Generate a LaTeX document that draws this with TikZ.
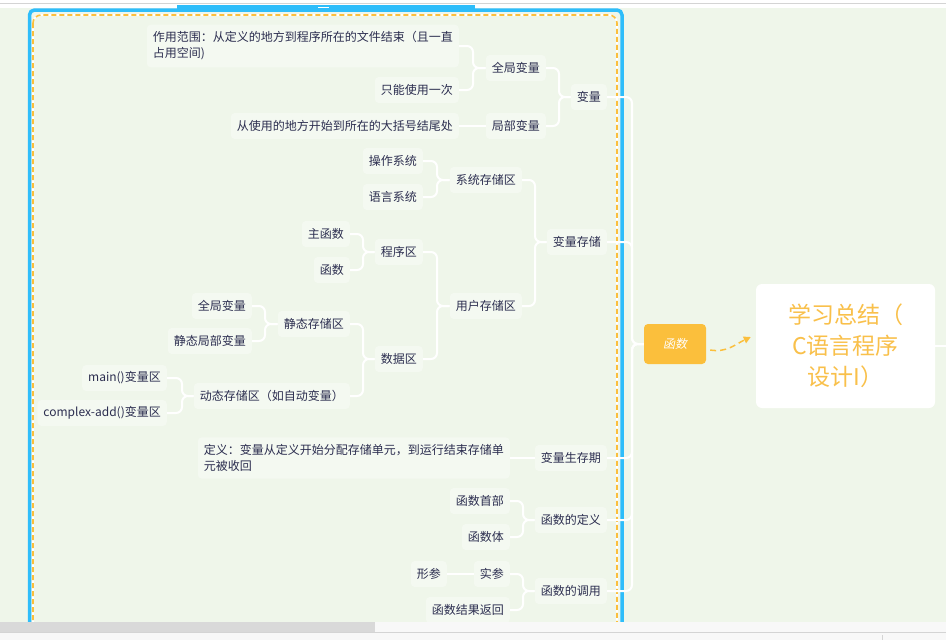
\documentclass[tikz,border=0pt]{standalone}
\usepackage{fontspec}
\setmainfont{Noto Sans CJK SC}
\newfontfamily\cjkslant{Noto Sans CJK SC}[FakeSlant=0.2]
\usetikzlibrary{arrows.meta}

\definecolor{canvas}{HTML}{EFF6EA}
\definecolor{topicfill}{HTML}{F4F9F1}
\definecolor{ink}{HTML}{2B2D4F}
\definecolor{frameblue}{HTML}{2EBDFA}
\definecolor{amber}{HTML}{FBBF3C}
\definecolor{titleamber}{HTML}{F9C04A}
\definecolor{stripgray}{HTML}{F8F8F8}
\definecolor{thumbgray}{HTML}{D9D9D9}
\definecolor{rulegray}{HTML}{D4D4D4}

\tikzset{
  topic/.style={anchor=east, fill=topicfill, rounded corners=4pt, text=ink,
    inner xsep=6pt, inner ysep=0pt, minimum height=26pt,
    font=\fontsize{12}{16}\selectfont},
  note/.style={topic, align=left, inner ysep=7pt},
  link/.style={draw=white, line width=2pt, rounded corners=6pt},
}

\begin{document}
\begin{tikzpicture}[x=1pt, y=-1pt]
  \useasboundingbox (0,0) rectangle (946,640);
  \fill[canvas] (0,0) rectangle (946,640);

  % top bar and frame
  \fill[white] (0,0) rectangle (946,8);
  \draw[rulegray, line width=0.8pt] (0,3.5) -- (946,3.5);
  \fill[frameblue] (177,5) rectangle (475,10);
  \draw[white, line width=1pt] (318,7) -- (329,7);
  \draw[frameblue, line width=3.5pt, rounded corners=5pt] (29.5,10) rectangle (622,700);
  \draw[white, line width=1.6pt, rounded corners=8pt] (33,15) rectangle (617,700);
  \draw[amber, line width=1.6pt, dash pattern=on 5pt off 3pt, rounded corners=8pt] (33,15) rectangle (617,700);

  % centre
  \node[fill=amber, rounded corners=4pt, minimum width=62pt, minimum height=40pt,
    text=white, font=\cjkslant\fontsize{12}{14}\selectfont] (F) at (675,344) {函数};
  \node[fill=white, rounded corners=6pt, minimum width=179pt, minimum height=124pt,
    text=titleamber, align=center, font=\fontsize{23}{31}\selectfont] (S) at (845.5,346)
    {学习总结（\\C语言程序\\设计I）};

  % first level
  \node[topic] (V) at (607,97) {变量};
  \node[topic] (VS) at (607,242) {变量存储};
  \node[topic] (VL) at (607,458) {变量生存期};
  \node[topic] (FD) at (607,520) {函数的定义};
  \node[topic] (FC) at (607,591) {函数的调用};

  % 变量
  \node[topic] (VG) at (546,68) {全局变量};
  \node[topic] (VP) at (546,126) {局部变量};
  \node[note] (VGa) at (459,46) {作用范围：从定义的地方到程序所在的文件结束（且一直\\占用空间)};
  \node[topic] (VGb) at (459,90) {只能使用一次};
  \node[topic] (VPa) at (459,126) {从使用的地方开始到所在的大括号结尾处};

  % 变量存储
  \node[topic] (SS) at (522,180) {系统存储区};
  \node[topic] (US) at (522,306) {用户存储区};
  \node[topic] (SSa) at (423,161) {操作系统};
  \node[topic] (SSb) at (423,197) {语言系统};
  \node[topic] (PA) at (423,252) {程序区};
  \node[topic] (DA) at (423,359) {数据区};
  \node[topic] (PAa) at (350,234) {主函数};
  \node[topic] (PAb) at (350,270) {函数};
  \node[topic] (ST) at (350,324) {静态存储区};
  \node[topic] (DY) at (350,396) {动态存储区（如自动变量）};
  \node[topic] (STa) at (252,306) {全局变量};
  \node[topic] (STb) at (252,341) {静态局部变量};
  \node[topic] (DYa) at (167,378) {main()变量区};
  \node[topic] (DYb) at (167,413) {complex-add()变量区};

  % 生存期, 定义, 调用
  \node[note] (VLa) at (510,458) {定义：变量从定义开始分配存储单元，到运行结束存储单\\元被收回};
  \node[topic] (FDa) at (510,501) {函数首部};
  \node[topic] (FDb) at (510,537) {函数体};
  \node[topic] (FCa) at (510,574) {实参};
  \node[topic] (FCb) at (510,610) {函数结果返回};
  \node[topic] (FCaa) at (447,574) {形参};

  % bracket points
  \coordinate (T) at (632,344);
  \coordinate (Vk) at (559,97);
  \coordinate (VGk) at (473,68);
  \coordinate (VSk) at (535,242);
  \coordinate (SSk) at (437,180);
  \coordinate (USk) at (437,306);
  \coordinate (PAk) at (363,252);
  \coordinate (DAk) at (363,359);
  \coordinate (STk) at (265,324);
  \coordinate (DYk) at (182,396);
  \coordinate (FDk) at (523,520);
  \coordinate (FCk) at (523,591);
  \coordinate (R) at (946,346);

  \draw[link] (V.east) -| (T) -- (F.west);
  \draw[link] (VS.east) -| (T) -- (F.west);
  \draw[link] (VL.east) -| (T) -- (F.west);
  \draw[link] (FD.east) -| (T) -- (F.west);
  \draw[link] (FC.east) -| (T) -- (F.west);
  \draw[link] (S.east) -- (R);

  \draw[link] (VG.east) -| (Vk) -- (V.west);
  \draw[link] (VP.east) -| (Vk) -- (V.west);
  \draw[link] (VGa.east) -| (VGk) -- (VG.west);
  \draw[link] (VGb.east) -| (VGk) -- (VG.west);
  \draw[link] (VPa.east) -- (VP.west);

  \draw[link] (SS.east) -| (VSk) -- (VS.west);
  \draw[link] (US.east) -| (VSk) -- (VS.west);
  \draw[link] (SSa.east) -| (SSk) -- (SS.west);
  \draw[link] (SSb.east) -| (SSk) -- (SS.west);
  \draw[link] (PA.east) -| (USk) -- (US.west);
  \draw[link] (DA.east) -| (USk) -- (US.west);
  \draw[link] (PAa.east) -| (PAk) -- (PA.west);
  \draw[link] (PAb.east) -| (PAk) -- (PA.west);
  \draw[link] (ST.east) -| (DAk) -- (DA.west);
  \draw[link] (DY.east) -| (DAk) -- (DA.west);
  \draw[link] (STa.east) -| (STk) -- (ST.west);
  \draw[link] (STb.east) -| (STk) -- (ST.west);
  \draw[link] (DYa.east) -| (DYk) -- (DY.west);
  \draw[link] (DYb.east) -| (DYk) -- (DY.west);

  \draw[link] (VLa.east) -- (VL.west);
  \draw[link] (FDa.east) -| (FDk) -- (FD.west);
  \draw[link] (FDb.east) -| (FDk) -- (FD.west);
  \draw[link] (FCa.east) -| (FCk) -- (FC.west);
  \draw[link] (FCb.east) -| (FCk) -- (FC.west);
  \draw[link] (FCaa.east) -- (FCa.west);

  \draw[amber, line width=1.5pt, dash pattern=on 6pt off 4pt, -{Triangle[length=7pt,width=7pt]}]
    ([xshift=4pt,yshift=-6pt]F.east) to[out=-10,in=205] ([xshift=-5pt,yshift=9pt]S.west);

  % scroll bar
  \fill[stripgray] (0,622) rectangle (946,640);
  \fill[thumbgray] (0,622) rectangle (375,632);
  \draw[rulegray, line width=0.8pt] (0,632.5) -- (946,632.5);
  \draw[rulegray, line width=0.8pt] (882,635) -- (882,640);
\end{tikzpicture}
\end{document}
